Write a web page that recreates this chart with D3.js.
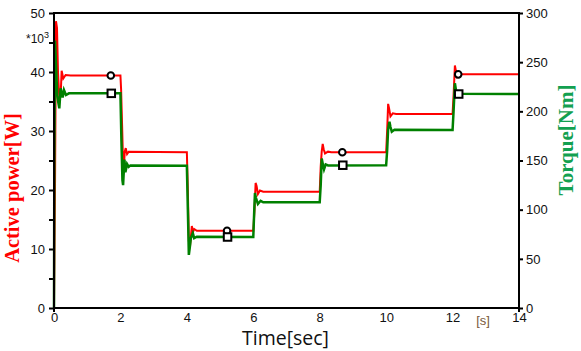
<!DOCTYPE html>
<html>
<head>
<meta charset="utf-8">
<script src="https://cdn.jsdelivr.net/npm/d3@7"></script>
<style>
  body { margin: 0; background: #fff; }
  svg { display: block; }
  .tick text { font-family: "Liberation Sans", Arial, sans-serif; font-size: 13px; fill: #111; }
</style>
</head>
<body>
<div id="chart"></div>
<script>
// Valeurs : [temps (s), valeur]
const powerPts = [
  [0, 0], [0.03, 20], [0.06, 48.6], [0.09, 47.5], [0.12, 40], [0.16, 35.6], [0.2, 36],
  [0.23, 40.2], [0.28, 38.9], [0.35, 39.5], [0.5, 39.4], [2.0, 39.4],
  [2.02, 37.1], [2.05, 31], [2.08, 24.5], [2.1, 23.5], [2.13, 26.5], [2.16, 27.1],
  [2.2, 26.1], [2.25, 26.5], [4.0, 26.4],
  [4.03, 20], [4.06, 11.3], [4.1, 10.8], [4.15, 13.9], [4.18, 12.8], [4.22, 13.4],
  [4.3, 13.1], [6.0, 13.1],
  [6.04, 17], [6.07, 21.2], [6.1, 20.7], [6.14, 19.3], [6.2, 19.9], [6.3, 19.7], [8.0, 19.7],
  [8.03, 24], [8.06, 26.5], [8.09, 27.8], [8.12, 26.9], [8.16, 26.2], [8.25, 26.5],
  [8.35, 26.4], [10.0, 26.4],
  [10.03, 30], [10.06, 34.6], [10.09, 33.8], [10.13, 32.5], [10.2, 33.0], [10.3, 32.9],
  [12.0, 32.9],
  [12.03, 36], [12.07, 41.1], [12.1, 40.2], [12.14, 39.2], [12.2, 39.6], [14, 39.6]
];
const torquePts = [
  [0, 0], [0.01, 150], [0.03, 272], [0.07, 240], [0.1, 215], [0.16, 203], [0.2, 223.4],
  [0.26, 214], [0.3, 221.7], [0.36, 216.6], [0.45, 218.3], [2.0, 218.3],
  [2.03, 170], [2.06, 130], [2.08, 125], [2.12, 151], [2.15, 138], [2.2, 146.5],
  [2.25, 143.5], [2.3, 145], [4.0, 144.7],
  [4.03, 100], [4.06, 54], [4.09, 62], [4.12, 71], [4.18, 76], [4.22, 71], [4.3, 72.5],
  [6.0, 72.2],
  [6.03, 100], [6.05, 117], [6.08, 112], [6.14, 105.8], [6.22, 109], [6.3, 107.5], [8.0, 107.5],
  [8.03, 125], [8.06, 152], [8.09, 147], [8.13, 141], [8.18, 146], [8.25, 145], [10.0, 145.2],
  [10.03, 160], [10.06, 182], [10.1, 189.5], [10.13, 184], [10.17, 179.3], [10.25, 181.2],
  [12.0, 181],
  [12.03, 200], [12.07, 228.5], [12.1, 222], [12.13, 218], [12.2, 217.8], [14, 217.6]
];
const markerTimes = [1.71, 5.21, 8.68, 12.17];
const markerPower = [39.4, 13.1, 26.4, 39.6];
const markerTorque = [218.3, 72.2, 145.2, 217.6];
const xTicks = [0, 2, 4, 6, 8, 10, 12, 14];
const leftTicks = [0, 10, 20, 30, 40, 50];
const leftMinor = [5, 15, 25, 35, 45];
const rightTicks = [0, 50, 100, 150, 200, 250, 300];

const config = {
  width: 581,
  height: 351,
  margin: { top: 13, left: 54, right: 62, bottom: 43 }
};
const plotW = config.width - config.margin.left - config.margin.right;
const plotH = config.height - config.margin.top - config.margin.bottom;
const x0 = config.margin.left, y0 = config.margin.top;
const x1 = x0 + plotW, y1 = y0 + plotH;

const svg = d3.select('#chart').append('svg')
  .attr('width', config.width)
  .attr('height', config.height);

const xScale = d3.scaleLinear().domain([0, 14]).range([x0, x1]);
const yLeft = d3.scaleLinear().domain([0, 50]).range([y1, y0]);
const yRight = d3.scaleLinear().domain([0, 300]).range([y1, y0]);

// Axes
svg.append('g')
  .attr('transform', `translate(0,${y1})`)
  .call(d3.axisBottom(xScale).tickValues(xTicks).tickSize(0).tickPadding(5))
  .call(g => g.select('.domain').remove());

svg.append('g')
  .attr('transform', `translate(${x0},0)`)
  .call(d3.axisLeft(yLeft).tickValues(leftTicks).tickSize(5).tickPadding(4))
  .call(g => g.select('.domain').remove())
  .call(g => g.selectAll('line').attr('stroke', '#000').attr('stroke-width', 2));

svg.append('g')
  .attr('transform', `translate(${x0},0)`)
  .call(d3.axisLeft(yLeft).tickValues(leftMinor).tickSize(5).tickFormat(''))
  .call(g => g.select('.domain').remove())
  .call(g => g.selectAll('line').attr('stroke', '#000').attr('stroke-width', 2));

svg.append('g')
  .attr('transform', `translate(${x1},0)`)
  .call(d3.axisRight(yRight).tickValues(rightTicks).tickSize(4).tickPadding(3))
  .call(g => g.select('.domain').remove())
  .call(g => g.selectAll('line').attr('stroke', '#000').attr('stroke-width', 2));

// Courbes
const linePower = d3.line().x(d => xScale(d[0])).y(d => yLeft(d[1]));
const lineTorque = d3.line().x(d => xScale(d[0])).y(d => yRight(d[1]));

svg.append('path')
  .datum(powerPts)
  .attr('d', linePower)
  .attr('fill', 'none')
  .attr('stroke', '#ff0000')
  .attr('stroke-width', 2);

svg.append('path')
  .datum(torquePts)
  .attr('d', lineTorque)
  .attr('fill', 'none')
  .attr('stroke', '#008000')
  .attr('stroke-width', 2.5);

// Cadre
const frame = svg.append('g').attr('stroke', '#000').attr('stroke-width', 2);
frame.append('line').attr('x1', x0).attr('x2', x1).attr('y1', y0).attr('y2', y0);
frame.append('line').attr('x1', x0).attr('x2', x1).attr('y1', y1).attr('y2', y1);
frame.append('line').attr('x1', x0).attr('x2', x0).attr('y1', y0 - 1).attr('y2', y1 + 4);
frame.append('line').attr('x1', x1).attr('x2', x1).attr('y1', y0 - 1).attr('y2', y1 + 4);

// Marqueurs
svg.append('g').selectAll('circle')
  .data(markerTimes)
  .enter()
  .append('circle')
  .attr('cx', (d, i) => xScale(d))
  .attr('cy', (d, i) => yLeft(markerPower[i]))
  .attr('r', 3.3)
  .attr('fill', '#fff')
  .attr('stroke', '#000')
  .attr('stroke-width', 2);

const sq = 7.5;
svg.append('g').selectAll('rect')
  .data(markerTimes)
  .enter()
  .append('rect')
  .attr('x', (d, i) => xScale(d) + 0.5 - sq / 2)
  .attr('y', (d, i) => yRight(markerTorque[i]) - sq / 2)
  .attr('width', sq)
  .attr('height', sq)
  .attr('fill', '#fff')
  .attr('stroke', '#000')
  .attr('stroke-width', 2);

// Libellés
svg.append('text')
  .text('Active power[W]')
  .attr('transform', 'translate(19,188) rotate(-90)')
  .attr('text-anchor', 'middle')
  .attr('font-family', '"Liberation Serif", "Times New Roman", serif')
  .attr('font-weight', 'bold')
  .attr('font-size', 20.5)
  .attr('fill', '#ff0000');

svg.append('text')
  .text('Torque[Nm]')
  .attr('transform', 'translate(573,140) rotate(-90)')
  .attr('text-anchor', 'middle')
  .attr('font-family', '"Liberation Serif", "Times New Roman", serif')
  .attr('font-weight', 'bold')
  .attr('font-size', 21)
  .attr('fill', '#13a050');

svg.append('text')
  .text('Time[sec]')
  .attr('x', 285.5)
  .attr('y', 345)
  .attr('text-anchor', 'middle')
  .attr('font-family', '"Open Sans", "Noto Sans", sans-serif')
  .attr('font-size', 19.5)
  .attr('fill', '#111');

svg.append('text')
  .text('[s]')
  .attr('x', 483)
  .attr('y', 325)
  .attr('text-anchor', 'middle')
  .attr('font-family', '"Liberation Sans", Arial, sans-serif')
  .attr('font-size', 13)
  .attr('fill', '#7a5a3a');

const unit = svg.append('text')
  .attr('x', 26)
  .attr('y', 43)
  .attr('font-family', '"Liberation Sans", Arial, sans-serif')
  .attr('font-size', 12)
  .attr('fill', '#111');
unit.append('tspan').text('*10');
unit.append('tspan').text('3').attr('dy', -5).attr('font-size', 9);
</script>
</body>
</html>
